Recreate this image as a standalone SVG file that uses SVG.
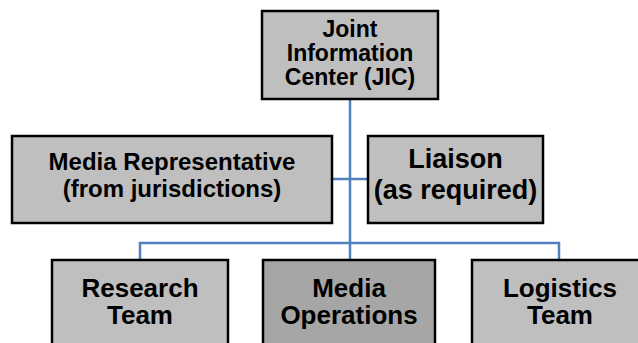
<svg xmlns="http://www.w3.org/2000/svg" width="638" height="343" viewBox="0 0 638 343">
  <style>
    .box { fill: #bfbfbf; stroke: #000; stroke-width: 2.5; }
    .box.dark { fill: #a6a6a6; }
    .lbl { font-family: "Liberation Sans", Arial, sans-serif; font-weight: bold; fill: #000; text-anchor: middle; }
    .link { fill: none; stroke: #4f81bd; stroke-width: 2.5; }
  </style>
  <rect width="638" height="343" fill="#fff"/>

  <g id="connectors">
    <path class="link" d="M350 99 V260"/>
    <path class="link" d="M332 179 H368"/>
    <path class="link" d="M140 260 V243 H559 V260"/>
  </g>

  <g id="jic">
    <rect class="box" x="262" y="11" width="176" height="88"/>
    <text class="lbl" font-size="23" x="350" y="37">Joint</text>
    <text class="lbl" font-size="23" x="350" y="61">Information</text>
    <text class="lbl" font-size="23" x="350" y="85">Center (JIC)</text>
  </g>

  <g id="media-rep">
    <rect class="box" x="12" y="136" width="320" height="87"/>
    <text class="lbl" font-size="24" x="172" y="170">Media Representative</text>
    <text class="lbl" font-size="24" x="172" y="197">(from jurisdictions)</text>
  </g>

  <g id="liaison">
    <rect class="box" x="368" y="136" width="175" height="87"/>
    <text class="lbl" font-size="27" x="455.5" y="168">Liaison</text>
    <text class="lbl" font-size="27" x="455.5" y="199">(as required)</text>
  </g>

  <g id="research">
    <rect class="box" x="52" y="260" width="176" height="95"/>
    <text class="lbl" font-size="26" x="140" y="297">Research</text>
    <text class="lbl" font-size="26" x="140" y="324">Team</text>
  </g>

  <g id="media-ops">
    <rect class="box dark" x="263" y="260" width="172" height="95"/>
    <text class="lbl" font-size="26" x="349" y="297">Media</text>
    <text class="lbl" font-size="26" x="349" y="324">Operations</text>
  </g>

  <g id="logistics">
    <rect class="box" x="472" y="260" width="176" height="95"/>
    <text class="lbl" font-size="26" x="560" y="297">Logistics</text>
    <text class="lbl" font-size="26" x="560" y="324">Team</text>
  </g>
</svg>
